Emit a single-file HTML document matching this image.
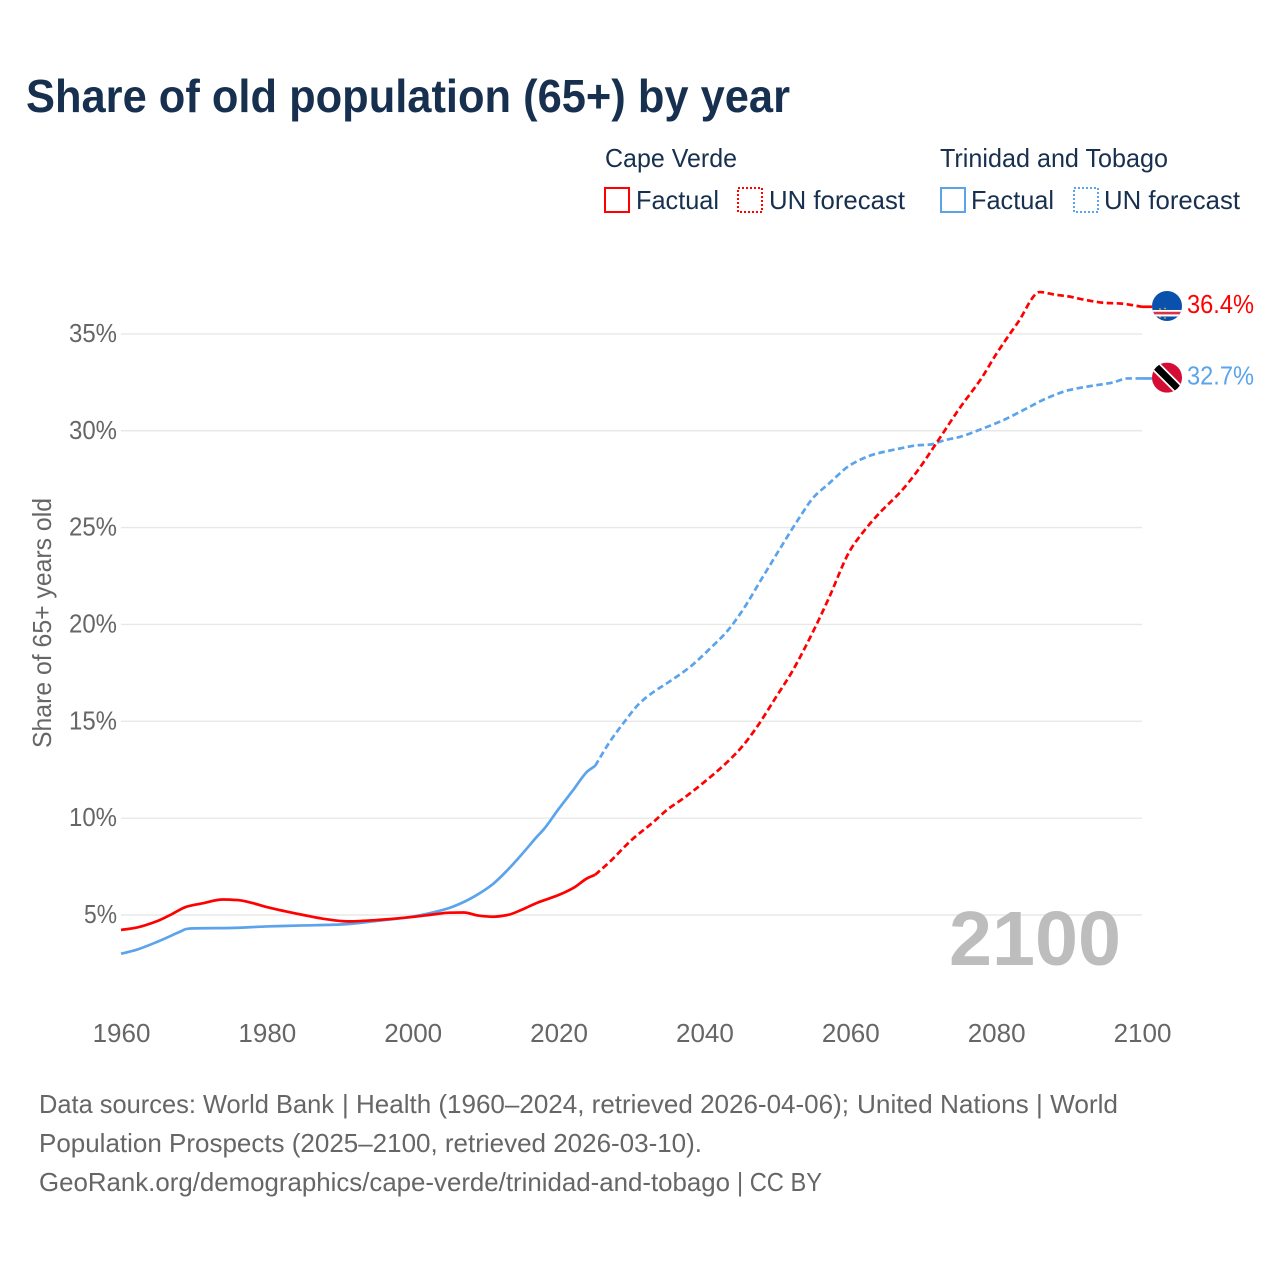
<!DOCTYPE html>
<html lang="en">
<head>
<meta charset="utf-8">
<title>Share of old population (65+) by year</title>
<style>
html,body{margin:0;padding:0;background:#fff;}
svg{display:block;}
text{font-family:"Liberation Sans",sans-serif;}
</style>
</head>
<body>
<svg id="chart" xmlns="http://www.w3.org/2000/svg" width="1280" height="1280" viewBox="0 0 1280 1280">
  <rect x="0" y="0" width="1280" height="1280" fill="#ffffff"/>
  <text x="26" y="112" font-size="46" font-weight="700" fill="#18304f" textLength="764" lengthAdjust="spacingAndGlyphs">Share of old population (65+) by year</text>

  <g font-size="26" fill="#18304f">
    <text x="605" y="167" textLength="132" lengthAdjust="spacingAndGlyphs">Cape Verde</text>
    <text x="940" y="167" textLength="228" lengthAdjust="spacingAndGlyphs">Trinidad and Tobago</text>
    <rect x="605" y="188" width="24" height="24" fill="none" stroke="#ff0000" stroke-width="2"/>
    <text x="636" y="209" textLength="83" lengthAdjust="spacingAndGlyphs">Factual</text>
    <rect x="738" y="188" width="24" height="24" fill="none" stroke="#ff0000" stroke-width="2" stroke-dasharray="2 2"/>
    <text x="769" y="209" textLength="136" lengthAdjust="spacingAndGlyphs">UN forecast</text>
    <rect x="941" y="188" width="24" height="24" fill="none" stroke="#5ba4ec" stroke-width="2"/>
    <text x="971" y="209" textLength="83" lengthAdjust="spacingAndGlyphs">Factual</text>
    <rect x="1074" y="188" width="24" height="24" fill="none" stroke="#5ba4ec" stroke-width="2" stroke-dasharray="2 2"/>
    <text x="1104" y="209" textLength="136" lengthAdjust="spacingAndGlyphs">UN forecast</text>
  </g>

  <text transform="translate(51,748) rotate(-90)" font-size="26" fill="#666666" textLength="250" lengthAdjust="spacingAndGlyphs">Share of 65+ years old</text>

  <g id="grid"></g>
  <g id="yticks"></g>
  <g id="xticks"></g>

  <text x="949" y="965" font-size="77" font-weight="700" fill="#bdbdbd" textLength="172" lengthAdjust="spacingAndGlyphs">2100</text>

  <g id="series"></g>

  <defs>
    <clipPath id="clip-cv"><circle cx="0" cy="0" r="15"/></clipPath>
    <clipPath id="clip-tt"><circle cx="0" cy="0" r="15"/></clipPath>
  </defs>
  <g id="flag-cv">
    <g clip-path="url(#clip-cv)">
      <rect x="-15" y="-15" width="30" height="30" fill="#0a50ad"/>
      <rect x="-15" y="4" width="30" height="6.5" fill="#ffffff"/>
      <rect x="-15" y="5.8" width="30" height="2.6" fill="#d8334a"/>
      <circle cx="-7" cy="3" r="0.8" fill="#f7d116"/>
      <circle cx="-2" cy="2.5" r="0.8" fill="#f7d116"/>
      <circle cx="-7" cy="11" r="0.8" fill="#f7d116"/>
      <circle cx="-2" cy="12" r="0.8" fill="#f7d116"/>
    </g>
  </g>
  <g id="flag-tt">
    <g clip-path="url(#clip-tt)">
      <rect x="-15" y="-15" width="30" height="30" fill="#d50c33"/>
      <line x1="-15" y1="-15" x2="15" y2="15" stroke="#ffffff" stroke-width="10.5"/>
      <line x1="-15" y1="-15" x2="15" y2="15" stroke="#000000" stroke-width="7"/>
    </g>
  </g>
  <text id="label-cv" x="1187" font-size="26" fill="#ff0000" textLength="67" lengthAdjust="spacingAndGlyphs"></text>
  <text id="label-tt" x="1187" font-size="26" fill="#5ba4ec" textLength="67" lengthAdjust="spacingAndGlyphs"></text>

  <g font-size="26" fill="#666666">
    <text x="39" y="1113" textLength="295" lengthAdjust="spacingAndGlyphs">Data sources: World Bank</text>
    <text x="342" y="1113" textLength="507" lengthAdjust="spacingAndGlyphs">| Health (1960–2024, retrieved 2026-04-06);</text>
    <text x="857" y="1113" textLength="261" lengthAdjust="spacingAndGlyphs">United Nations | World</text>
    <text x="39" y="1152" textLength="663" lengthAdjust="spacingAndGlyphs">Population Prospects (2025–2100, retrieved 2026-03-10).</text>
    <text x="39" y="1191" textLength="691" lengthAdjust="spacingAndGlyphs">GeoRank.org/demographics/cape-verde/trinidad-and-tobago</text>
    <text x="737" y="1191" textLength="85" lengthAdjust="spacingAndGlyphs">| CC BY</text>
  </g>
</svg>

<script>
var yTickValues = [5, 10, 15, 20, 25, 30, 35];
var xTickValues = [1960, 1980, 2000, 2020, 2040, 2060, 2080, 2100];

var cvFactualYears = [1960,1962,1965,1967,1969,1971,1974,1976,1978,1980,1985,1988,1991,1995,2000,2003,2005,2007,2009,2011,2013,2015,2017,2020,2022,2024,2025];
var cvFactualValues = [4.23,4.34,4.69,5.05,5.43,5.59,5.8,5.77,5.62,5.41,5.0,4.79,4.67,4.74,4.9,5.04,5.12,5.13,4.97,4.91,5.0,5.28,5.62,6.03,6.39,6.91,7.07];
var cvForecastYears = [2025,2027,2030,2033,2035,2037,2040,2043,2045,2047,2050,2052,2055,2057,2060,2062,2064,2067,2069,2072,2075,2078,2080,2083,2086,2088,2090,2092,2095,2097,2100];
var cvForecastValues = [7.07,7.74,8.87,9.8,10.47,10.99,11.87,12.85,13.62,14.6,16.36,17.55,19.71,21.31,23.84,24.88,25.75,26.89,27.82,29.47,31.17,32.72,33.95,35.6,37.16,37.03,36.93,36.77,36.6,36.57,36.4];

var ttFactualYears = [1960,1962,1965,1968,1969,1970,1975,1980,1985,1990,1995,2000,2003,2005,2007,2009,2011,2013,2015,2017,2018,2020,2022,2024,2025];
var ttFactualValues = [3.0,3.19,3.62,4.12,4.28,4.31,4.33,4.41,4.46,4.51,4.69,4.92,5.15,5.36,5.67,6.08,6.6,7.32,8.15,9.03,9.44,10.47,11.45,12.43,12.69];
var ttForecastYears = [2025,2027,2029,2031,2033,2035,2038,2041,2043,2045,2048,2050,2053,2055,2057,2060,2063,2067,2069,2071,2073,2075,2078,2081,2084,2087,2090,2093,2096,2098,2100];
var ttForecastValues = [12.69,13.93,14.96,15.89,16.51,17.0,17.8,18.84,19.6,20.6,22.45,23.69,25.5,26.58,27.25,28.23,28.75,29.1,29.24,29.29,29.52,29.68,30.09,30.55,31.12,31.69,32.1,32.31,32.49,32.7,32.7];

var NS = 'http://www.w3.org/2000/svg';
function xScale(year) { return 121 + (year - 1960) * (1021 / 140); }
function yScale(value) { return 915 - (value - 5) * 19.37; }

/* Monotone cubic path through the data points, so no overshoot at the 2086 peak. */
function pathFrom(years, values) {
  var n = years.length;
  var xs = [], ys = [], slopes = [], tangents = [];
  var i;
  for (i = 0; i < n; i++) { xs.push(xScale(years[i])); ys.push(yScale(values[i])); }
  for (i = 0; i < n - 1; i++) { slopes.push((ys[i + 1] - ys[i]) / (xs[i + 1] - xs[i])); }
  tangents.push(slopes[0]);
  for (i = 1; i < n - 1; i++) {
    if (slopes[i - 1] * slopes[i] <= 0) { tangents.push(0); }
    else {
      var h0 = xs[i] - xs[i - 1], h1 = xs[i + 1] - xs[i];
      tangents.push(3 * (h0 + h1) / ((2 * h1 + h0) / slopes[i - 1] + (h1 + 2 * h0) / slopes[i]));
    }
  }
  tangents.push(slopes[n - 2]);
  var d = 'M' + xs[0].toFixed(2) + ' ' + ys[0].toFixed(2);
  for (i = 0; i < n - 1; i++) {
    var h = (xs[i + 1] - xs[i]) / 3;
    d += 'C' + (xs[i] + h).toFixed(2) + ' ' + (ys[i] + h * tangents[i]).toFixed(2) + ' ' +
         (xs[i + 1] - h).toFixed(2) + ' ' + (ys[i + 1] - h * tangents[i + 1]).toFixed(2) + ' ' +
         xs[i + 1].toFixed(2) + ' ' + ys[i + 1].toFixed(2);
  }
  return d;
}

var grid = document.getElementById('grid');
var yticks = document.getElementById('yticks');
yTickValues.forEach(function (v) {
  var line = document.createElementNS(NS, 'line');
  
  
  line.setAttribute('x1', xScale(1960));
  line.setAttribute('x2', xScale(2100));
  line.setAttribute('y1', yScale(v));
  line.setAttribute('y2', yScale(v));
  line.setAttribute('stroke', '#e8e8e8');
  line.setAttribute('stroke-width', '1.4');
  grid.appendChild(line);

  var t = document.createElementNS(NS, 'text');
  
  
  var label = v + '%';
  var w = label.length === 2 ? 33 : 48;
  t.setAttribute('x', 117 - w);
  t.setAttribute('y', yScale(v) + 8);
  t.setAttribute('font-size', '26');
  t.setAttribute('fill', '#666666');
  t.setAttribute('textLength', w);
  t.setAttribute('lengthAdjust', 'spacingAndGlyphs');
  t.textContent = label;
  yticks.appendChild(t);
});

var xticks = document.getElementById('xticks');
xTickValues.forEach(function (yr) {
  var t = document.createElementNS(NS, 'text');
  
  
  t.setAttribute('x', xScale(yr) + 0.5);
  t.setAttribute('y', '1042');
  t.setAttribute('text-anchor', 'middle');
  t.setAttribute('font-size', '26');
  t.setAttribute('fill', '#666666');
  t.textContent = String(yr);
  xticks.appendChild(t);
});

var seriesGroup = document.getElementById('series');

function addLine(d, color, dashed, name) {
  var p = document.createElementNS(NS, 'path');
  
  
  p.setAttribute('d', d);
  p.setAttribute('fill', 'none');
  p.setAttribute('stroke', color);
  p.setAttribute('stroke-width', '2.7');
  p.setAttribute('stroke-linejoin', 'round');
  if (dashed) { p.setAttribute('stroke-dasharray', '6.5 3.5'); }
  seriesGroup.appendChild(p);
}

addLine(pathFrom(ttFactualYears, ttFactualValues), '#5ba4ec', false, 'line-trinidad-factual');
addLine(pathFrom(ttForecastYears, ttForecastValues), '#5ba4ec', true, 'line-trinidad-forecast');
addLine(pathFrom(cvFactualYears, cvFactualValues), '#ff0000', false, 'line-cape-verde-factual');
addLine(pathFrom(cvForecastYears, cvForecastValues), '#ff0000', true, 'line-cape-verde-forecast');

var cvLast = cvForecastValues[cvForecastValues.length - 1];
var ttLast = ttForecastValues[ttForecastValues.length - 1];
addLine('M' + xScale(2100) + ' ' + yScale(cvLast) + 'L1152 ' + yScale(cvLast), '#ff0000', false, 'connector-cape-verde');
addLine('M' + xScale(2100) + ' ' + yScale(ttLast) + 'L1152 ' + yScale(ttLast), '#5ba4ec', false, 'connector-trinidad');

document.getElementById('flag-cv').setAttribute('transform', 'translate(1167,' + (yScale(cvLast) - 0.8) + ')');
document.getElementById('flag-tt').setAttribute('transform', 'translate(1167,' + (yScale(ttLast) - 0.8) + ')');

var labelCv = document.getElementById('label-cv');
labelCv.setAttribute('y', yScale(cvLast) + 6);
labelCv.textContent = cvLast.toFixed(1) + '%';
var labelTt = document.getElementById('label-tt');
labelTt.setAttribute('y', yScale(ttLast) + 6);
labelTt.textContent = ttLast.toFixed(1) + '%';
</script>
</body>
</html>
